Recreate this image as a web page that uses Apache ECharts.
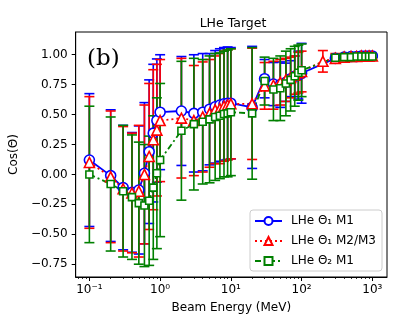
<!DOCTYPE html>
<html>
<head>
<meta charset="utf-8">
<script src="https://cdn.jsdelivr.net/npm/echarts@6/dist/echarts.min.js"></script>
<style>
  html, body { margin: 0; padding: 0; background: #fff; }
  #chart { width: 407px; height: 326px; }
</style>
</head>
<body>
<div id="chart"></div>
<script>
// 能量点 (MeV)，200 MeV 只有 M2/M3 有数据
const energies = [0.1, 0.2, 0.3, 0.4, 0.5, 0.6, 0.7, 0.8, 0.9, 1,
  2, 3, 4, 5, 6, 7, 8, 9, 10,
  20, 30, 40, 50, 60, 70, 80, 90, 100,
  200, 300, 400, 500, 600, 700, 800, 900, 1000];

// LHe Θ1 M1
const theta1M1 = [0.12, -0.01, -0.11, -0.15, -0.13, 0.01, 0.19, 0.345, 0.45, 0.52,
  0.53, 0.51, 0.52, 0.545, 0.565, 0.58, 0.59, 0.595, 0.595,
  0.56, 0.80, 0.755, 0.75, 0.77, 0.80, 0.82, 0.83, 0.845,
  null, 0.97, 0.98, 0.985, 0.985, 0.99, 0.99, 0.99, 0.99];
const theta1M1Err = [0.555, 0.55, 0.52, 0.50, 0.535, 0.59, 0.60, 0.575, 0.515, 0.48,
  0.455, 0.49, 0.49, 0.465, 0.47, 0.47, 0.47, 0.47, 0.465,
  0.51, 0.16, 0.18, 0.19, 0.16, 0.15, 0.17, 0.20, 0.25,
  null, 0.03, 0.02, 0.015, 0.01, 0.01, 0.01, 0.01, 0.01];

// LHe Θ1 M2/M3
const theta1M23 = [0.10, -0.02, -0.12, -0.155, -0.14, 0.0, 0.15, 0.29, 0.37, 0.45,
  0.47, 0.45, 0.48, 0.51, 0.54, 0.55, 0.57, 0.58, 0.59,
  0.59, 0.74, 0.745, 0.77, 0.79, 0.81, 0.83, 0.85, 0.86,
  0.945, 0.97, 0.98, 0.985, 0.985, 0.99, 0.99, 0.99, 0.99];
const theta1M23Err = [0.55, 0.55, 0.52, 0.50, 0.55, 0.58, 0.61, 0.585, 0.55, 0.51,
  0.50, 0.46, 0.46, 0.45, 0.45, 0.46, 0.46, 0.46, 0.46,
  0.465, 0.195, 0.20, 0.19, 0.18, 0.17, 0.16, 0.17, 0.17,
  0.09, 0.04, 0.02, 0.015, 0.01, 0.01, 0.01, 0.01, 0.01];

// LHe Θ2 M1
const theta2M1 = [0.0, -0.08, -0.14, -0.19, -0.24, -0.26, -0.22, -0.11, 0.01, 0.12,
  0.365, 0.42, 0.44, 0.46, 0.48, 0.49, 0.505, 0.51, 0.52,
  0.51, 0.78, 0.71, 0.72, 0.76, 0.79, 0.82, 0.85, 0.87,
  null, 0.975, 0.98, 0.98, 0.985, 0.985, 0.985, 0.985, 0.985];
const theta2M1Err = [0.57, 0.56, 0.55, 0.52, 0.51, 0.51, 0.54, 0.60, 0.63, 0.64,
  0.58, 0.55, 0.52, 0.53, 0.53, 0.525, 0.525, 0.53, 0.53,
  0.55, 0.20, 0.26, 0.27, 0.27, 0.26, 0.25, 0.23, 0.22,
  null, 0.02, 0.015, 0.01, 0.01, 0.01, 0.01, 0.01, 0.01];

// 刻度
const xMajorTicks = [0.1, 1, 10, 100, 1000];
const xMinorTicks = [0.07, 0.08, 0.09,
  0.2, 0.3, 0.4, 0.5, 0.6, 0.7, 0.8, 0.9,
  2, 3, 4, 5, 6, 7, 8, 9,
  20, 30, 40, 50, 60, 70, 80, 90,
  200, 300, 400, 500, 600, 700, 800, 900];
const yTicks = [-0.75, -0.5, -0.25, 0, 0.25, 0.5, 0.75, 1.0];

const names = ['LHe Θ₁ M1', 'LHe Θ₁ M2/M3', 'LHe Θ₂ M1'];
const FONT = 'DejaVu Sans';

// 上标数字
const SUP = { '-': '⁻', '0': '⁰', '1': '¹', '2': '²', '3': '³' };
function powLabel(v) {
  const p = String(Math.round(Math.log10(v)));
  return '10' + p.split('').map(c => SUP[c]).join('');
}

// 折线数据
function lineData(values) {
  const out = [];
  energies.forEach((e, i) => { if (values[i] !== null) out.push([e, values[i]]); });
  return out;
}

// 误差棒 (custom series)
function errorBars(color, values, errs) {
  const data = [];
  energies.forEach((e, i) => {
    if (values[i] === null) return;
    data.push([e, values[i] - errs[i], values[i] + errs[i]]);
  });
  return {
    type: 'custom',
    data: data,
    encode: { x: 0, y: [1, 2] },
    z: 2,
    silent: true,
    renderItem: function (params, api) {
      const lo = api.coord([api.value(0), api.value(1)]);
      const hi = api.coord([api.value(0), api.value(2)]);
      const w = 5;
      const st = { stroke: color, lineWidth: 1.6, fill: null };
      return {
        type: 'group',
        children: [
          { type: 'line', shape: { x1: lo[0], y1: lo[1], x2: hi[0], y2: hi[1] }, style: st },
          { type: 'line', shape: { x1: lo[0] - w, y1: lo[1], x2: lo[0] + w, y2: lo[1] }, style: st },
          { type: 'line', shape: { x1: hi[0] - w, y1: hi[1], x2: hi[0] + w, y2: hi[1] }, style: st }
        ]
      };
    }
  };
}

function lineSeries(name, color, values, symbol, size, dash) {
  return {
    type: 'line',
    name: name,
    data: lineData(values),
    z: 3,
    symbol: symbol,
    symbolSize: size,
    showAllSymbol: true,
    connectNulls: true,
    lineStyle: { color: color, width: 1.8, type: dash },
    itemStyle: { color: '#fff', borderColor: color, borderWidth: 1.6 },
    emphasis: { disabled: true },
    animation: false
  };
}

const chart = echarts.init(document.getElementById('chart'));

chart.setOption({
  animation: false,
  textStyle: { fontFamily: FONT },
  title: [
    { text: 'LHe Target', left: 228, top: 12, textAlign: 'center',
      textStyle: { fontFamily: FONT, fontSize: 12.5, fontWeight: 'normal', color: '#000' } },
    { text: '(b)', left: 82, top: 43,
      textStyle: { fontFamily: 'DejaVu Serif', fontSize: 23, fontWeight: 'normal', color: '#000' } }
  ],
  grid: { left: 69, right: 20, top: 32, bottom: 49, show: true, borderColor: '#000', borderWidth: 1 },
  legend: {
    data: names,
    orient: 'vertical',
    right: 25,
    bottom: 55,
    itemWidth: 27,
    itemHeight: 10,
    itemGap: 8,
    backgroundColor: '#fff',
    borderColor: '#ccc',
    borderWidth: 1,
    borderRadius: 3,
    padding: [5, 6, 4, 4],
    textStyle: { fontFamily: FONT, fontSize: 12, color: '#000', padding: [0, 0, 0, 4] }
  },
  xAxis: [
    {
      type: 'log',
      logBase: 10,
      min: 0.064,
      max: 1613,
      name: 'Beam Energy (MeV)',
      nameLocation: 'middle',
      nameGap: 25,
      nameTextStyle: { fontFamily: FONT, fontSize: 12, color: '#000' },
      axisLine: { onZero: false, lineStyle: { color: '#000', width: 1 } },
      axisTick: { customValues: xMajorTicks, length: 4, lineStyle: { color: '#000' } },
      axisLabel: { customValues: xMajorTicks, formatter: powLabel, margin: 7,
        fontFamily: FONT, fontSize: 12, color: '#000' },
      splitLine: { show: false }
    },
    {
      type: 'log',
      logBase: 10,
      min: 0.064,
      max: 1613,
      position: 'bottom',
      axisLine: { show: false, onZero: false },
      axisTick: { customValues: xMinorTicks, length: 2, lineStyle: { color: '#000', width: 0.8 } },
      axisLabel: { show: false },
      splitLine: { show: false }
    }
  ],
  yAxis: {
    type: 'value',
    min: -0.857,
    max: 1.19,
    name: 'Cos(Θ)',
    nameLocation: 'middle',
    nameGap: 51,
    nameTextStyle: { fontFamily: FONT, fontSize: 12, color: '#000' },
    axisLine: { show: true, onZero: false, lineStyle: { color: '#000', width: 1 } },
    axisTick: { show: true, customValues: yTicks, length: 4, lineStyle: { color: '#000' } },
    axisLabel: { customValues: yTicks, margin: 8, fontFamily: FONT, fontSize: 12, color: '#000',
      formatter: v => v.toFixed(2).replace('-', '−') },
    splitLine: { show: false }
  },
  series: [
    errorBars('#0000ff', theta1M1, theta1M1Err),
    errorBars('#ff0000', theta1M23, theta1M23Err),
    errorBars('#008000', theta2M1, theta2M1Err),
    lineSeries(names[0], '#0000ff', theta1M1, 'circle', 10, 'solid'),
    lineSeries(names[1], '#ff0000', theta1M23, 'triangle', 10, [2, 3]),
    lineSeries(names[2], '#008000', theta2M1, 'rect', 7, [6, 3, 2, 3])
  ]
});
</script>
</body>
</html>
